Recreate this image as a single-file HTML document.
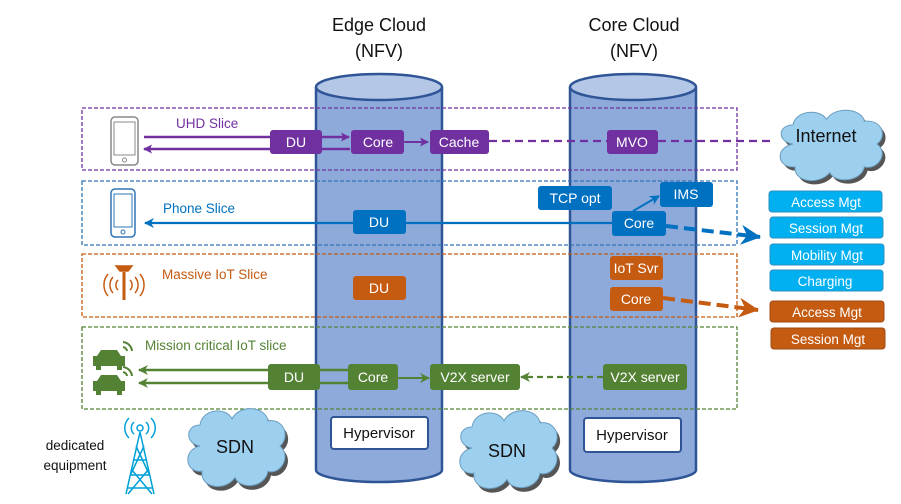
<!DOCTYPE html>
<html><head><meta charset="utf-8"><style>
html,body{margin:0;padding:0;background:#fff;}
svg{display:block;font-family:"Liberation Sans",sans-serif;}
</style></head><body>
<svg width="901" height="504" viewBox="0 0 901 504" xmlns="http://www.w3.org/2000/svg">
<defs>
<marker id="ap" markerWidth="9" markerHeight="9" refX="8" refY="4.5" orient="auto" markerUnits="userSpaceOnUse"><path d="M0,0 L9,4.5 L0,9 L2,4.5z" fill="#7030a0"/></marker>
<marker id="ab" markerWidth="10" markerHeight="10" refX="9" refY="5" orient="auto" markerUnits="userSpaceOnUse"><path d="M0,0 L10,5 L0,10 L3,5z" fill="#0070c0"/></marker>
<marker id="ag" markerWidth="10" markerHeight="10" refX="9" refY="5" orient="auto" markerUnits="userSpaceOnUse"><path d="M0,0 L10,5 L0,10 L3,5z" fill="#548235"/></marker>
<marker id="abb" markerWidth="20" markerHeight="20" refX="19" refY="10" orient="auto" markerUnits="userSpaceOnUse"><path d="M0,0 L20,10 L0,20 L6,10z" fill="#0070c0"/></marker>
<marker id="aob" markerWidth="20" markerHeight="20" refX="19" refY="10" orient="auto" markerUnits="userSpaceOnUse"><path d="M0,0 L20,10 L0,20 L6,10z" fill="#c55a11"/></marker>
<g id="cloud"><path d="M20,40 C5,38 5,20 20,20 C22,5 45,2 52,14 C60,0 85,2 88,16 C105,14 110,32 100,40 C112,50 100,68 88,64 C85,80 60,82 55,70 C45,84 20,80 22,64 C5,66 2,44 20,40z"/></g>
</defs>

<text x="379" y="31" font-size="18" text-anchor="middle" fill="#111">Edge Cloud</text>
<text x="379" y="57" font-size="18" text-anchor="middle" fill="#111">(NFV)</text>
<text x="634" y="31" font-size="18" text-anchor="middle" fill="#111">Core Cloud</text>
<text x="634" y="57" font-size="18" text-anchor="middle" fill="#111">(NFV)</text>

<g stroke="#2f5597" stroke-width="2.5">
<path d="M316,87 V470 A63,12 0 0 0 442,470 V87" fill="#8eaadb"/>
<ellipse cx="379" cy="87" rx="63" ry="13" fill="#b4c7e7"/>
<path d="M570,87 V470 A63,12 0 0 0 696,470 V87" fill="#8eaadb"/>
<ellipse cx="633" cy="87" rx="63" ry="13" fill="#b4c7e7"/>
</g>

<g fill="none" stroke-width="1.3" stroke-dasharray="4,2">
<rect x="82" y="108" width="655" height="62" stroke="#7030a0"/>
<rect x="82" y="181" width="655" height="64" stroke="#2e75b6"/>
<rect x="82" y="254" width="655" height="63" stroke="#c55a11"/>
<rect x="82" y="327" width="655" height="82" stroke="#548235"/>
</g>

<g transform="translate(772,106) scale(1.05,0.95)"><use href="#cloud" fill="#555" transform="translate(3,4)"/><use href="#cloud" fill="#9dcfef" stroke="#6a9ec0"/></g>
<text x="826" y="142" font-size="18" text-anchor="middle" fill="#111">Internet</text>
<g transform="translate(180,404) scale(1,1.05)"><use href="#cloud" fill="#555" transform="translate(3,4)"/><use href="#cloud" fill="#9dcfef" stroke="#6a9ec0"/></g>
<text x="235" y="453" font-size="18" text-anchor="middle" fill="#111">SDN</text>
<g transform="translate(452,406) scale(1,1.05)"><use href="#cloud" fill="#555" transform="translate(3,4)"/><use href="#cloud" fill="#9dcfef" stroke="#6a9ec0"/></g>
<text x="507" y="457" font-size="18" text-anchor="middle" fill="#111">SDN</text>

<!-- UHD -->
<text x="176" y="128" font-size="13.5" fill="#7030a0">UHD Slice</text>
<rect x="111" y="117" width="27" height="48" rx="4" fill="#fff" stroke="#888" stroke-width="1.5"/><rect x="114" y="122" width="21" height="33" fill="none" stroke="#888"/><circle cx="124.5" cy="160" r="2" fill="none" stroke="#888"/>
<line x1="144" y1="137" x2="349" y2="137" stroke="#7030a0" stroke-width="2.5" marker-end="url(#ap)"/>
<line x1="350" y1="149" x2="144" y2="149" stroke="#7030a0" stroke-width="2.5" marker-end="url(#ap)"/>
<line x1="489" y1="141" x2="770" y2="141" stroke="#7030a0" stroke-width="2.2" stroke-dasharray="8,5"/>
<line x1="405" y1="142" x2="428" y2="142" stroke="#7030a0" stroke-width="2" marker-end="url(#ap)" marker-start="url(#ap)"/>
<g fill="#7030a0"><rect x="270" y="130" width="52" height="24" rx="3"/><rect x="351" y="130" width="53" height="24" rx="3"/><rect x="430" y="130" width="59" height="24" rx="3"/><rect x="607" y="130" width="51" height="24" rx="3"/></g>
<g fill="#fff" font-size="14" text-anchor="middle"><text x="296" y="147">DU</text><text x="378" y="147">Core</text><text x="459" y="147">Cache</text><text x="632" y="147">MVO</text></g>

<!-- Phone -->
<text x="163" y="213" font-size="13.5" fill="#0070c0">Phone Slice</text>
<rect x="111" y="189" width="24" height="48" rx="4" fill="#fff" stroke="#2e75b6" stroke-width="1.5"/><rect x="114" y="194" width="18" height="33" fill="none" stroke="#2e75b6"/><circle cx="123" cy="232" r="2" fill="none" stroke="#2e75b6"/>
<line x1="612" y1="223" x2="145" y2="223" stroke="#0070c0" stroke-width="2.2" marker-end="url(#ab)"/>
<line x1="633" y1="211" x2="659" y2="196" stroke="#0070c0" stroke-width="2" marker-end="url(#ab)"/>
<line x1="666" y1="226" x2="760" y2="237" stroke="#0070c0" stroke-width="4" stroke-dasharray="12,6" marker-end="url(#abb)"/>
<g fill="#0070c0"><rect x="353" y="210" width="53" height="24" rx="3"/><rect x="538" y="186" width="74" height="24" rx="3"/><rect x="660" y="182" width="53" height="25" rx="3"/><rect x="612" y="211" width="54" height="25" rx="3"/></g>
<g fill="#fff" font-size="14" text-anchor="middle"><text x="379" y="227">DU</text><text x="575" y="203">TCP opt</text><text x="686" y="199">IMS</text><text x="639" y="228">Core</text></g>
<g fill="#00b0f0" stroke="#2e8fc0"><rect x="769" y="191" width="113" height="21" rx="3"/><rect x="770" y="217" width="113" height="21" rx="3"/><rect x="770" y="244" width="114" height="21" rx="3"/><rect x="770" y="270" width="113" height="21" rx="3"/></g>
<g fill="#fff" font-size="13.5" text-anchor="middle"><text x="826" y="207">Access Mgt</text><text x="826" y="233">Session Mgt</text><text x="827" y="260">Mobility Mgt</text><text x="825" y="286">Charging</text></g>

<!-- IoT -->
<text x="162" y="279" font-size="13.5" fill="#c55a11">Massive IoT Slice</text>
<g stroke="#c55a11" fill="none" stroke-width="1.5"><path d="M116,266 h16 l-4,5 h-8z" fill="#c55a11"/><line x1="124" y1="272" x2="124" y2="300" stroke-width="3"/><path d="M118,280 a7,7 0 0 0 0,10 M130,280 a7,7 0 0 1 0,10 M113,277 a12,12 0 0 0 0,16 M135,277 a12,12 0 0 1 0,16 M108,274 a17,17 0 0 0 0,22 M140,274 a17,17 0 0 1 0,22"/></g>
<line x1="663" y1="298" x2="758" y2="310" stroke="#c55a11" stroke-width="4" stroke-dasharray="12,6" marker-end="url(#aob)"/>
<g fill="#c55a11"><rect x="353" y="276" width="53" height="24" rx="3"/><rect x="610" y="256" width="53" height="24" rx="3"/><rect x="610" y="287" width="53" height="24" rx="3"/></g>
<g fill="#fff" font-size="14" text-anchor="middle"><text x="379" y="293">DU</text><text x="636" y="273">IoT Svr</text><text x="636" y="304">Core</text></g>
<g fill="#c55a11" stroke="#a04a10"><rect x="770" y="301" width="114" height="21" rx="3"/><rect x="771" y="328" width="114" height="21" rx="3"/></g>
<g fill="#fff" font-size="13.5" text-anchor="middle"><text x="827" y="317">Access Mgt</text><text x="828" y="344">Session Mgt</text></g>

<!-- Mission -->
<text x="145" y="350" font-size="13.5" fill="#548235">Mission critical IoT slice</text>
<g fill="#548235"><path d="M93,356 h4 l4,-6 h16 l4,6 h4 v10 h-3 v4 h-5 v-4 h-16 v4 h-5 v-4 h-3z"/><path d="M93,381 h4 l4,-6 h16 l4,6 h4 v10 h-3 v4 h-5 v-4 h-16 v4 h-5 v-4 h-3z"/></g>
<g fill="none" stroke="#548235" stroke-width="2"><path d="M123,347 a5,5 0 0 1 4,4 M123,342 a10,10 0 0 1 9,9"/><path d="M123,372 a5,5 0 0 1 4,4 M123,367 a10,10 0 0 1 9,9"/></g>
<line x1="348" y1="370" x2="139" y2="370" stroke="#548235" stroke-width="2.5" marker-end="url(#ag)"/>
<line x1="348" y1="383" x2="139" y2="383" stroke="#548235" stroke-width="2.5" marker-end="url(#ag)"/>
<line x1="399" y1="378" x2="429" y2="378" stroke="#548235" stroke-width="2" marker-end="url(#ag)" marker-start="url(#ag)"/>
<line x1="603" y1="377" x2="521" y2="377" stroke="#548235" stroke-width="2.2" stroke-dasharray="6,4" marker-end="url(#ag)"/>
<g fill="#548235"><rect x="268" y="364" width="52" height="26" rx="3"/><rect x="348" y="364" width="50" height="26" rx="3"/><rect x="430" y="364" width="90" height="26" rx="3"/><rect x="603" y="364" width="84" height="26" rx="3"/></g>
<g fill="#fff" font-size="14" text-anchor="middle"><text x="294" y="382">DU</text><text x="373" y="382">Core</text><text x="475" y="382">V2X server</text><text x="645" y="382">V2X server</text></g>

<rect x="331" y="417" width="97" height="32" rx="3" fill="#fff" stroke="#2f5597" stroke-width="2"/>
<text x="379" y="438" font-size="15" text-anchor="middle" fill="#111">Hypervisor</text>
<rect x="584" y="418" width="97" height="34" rx="3" fill="#fff" stroke="#2f5597" stroke-width="2"/>
<text x="632" y="440" font-size="15" text-anchor="middle" fill="#111">Hypervisor</text>

<g stroke="#00a0d8" fill="none" stroke-width="1.5">
<circle cx="140" cy="428" r="3"/><path d="M134,422 a8,8 0 0 0 0,12 M146,422 a8,8 0 0 1 0,12 M129,418 a14,14 0 0 0 0,20 M151,418 a14,14 0 0 1 0,20"/>
<path d="M140,432 L126,494 M140,432 L154,494 M133,460 h14 M130,475 h20 M128,488 h24 M136,446 L150,476 M144,446 L130,476 M132,470 L152,494 M148,470 L128,494"/>
</g>
<text x="75" y="450" font-size="13.5" text-anchor="middle" fill="#111">dedicated</text>
<text x="75" y="470" font-size="13.5" text-anchor="middle" fill="#111">equipment</text>
</svg>
</body></html>
